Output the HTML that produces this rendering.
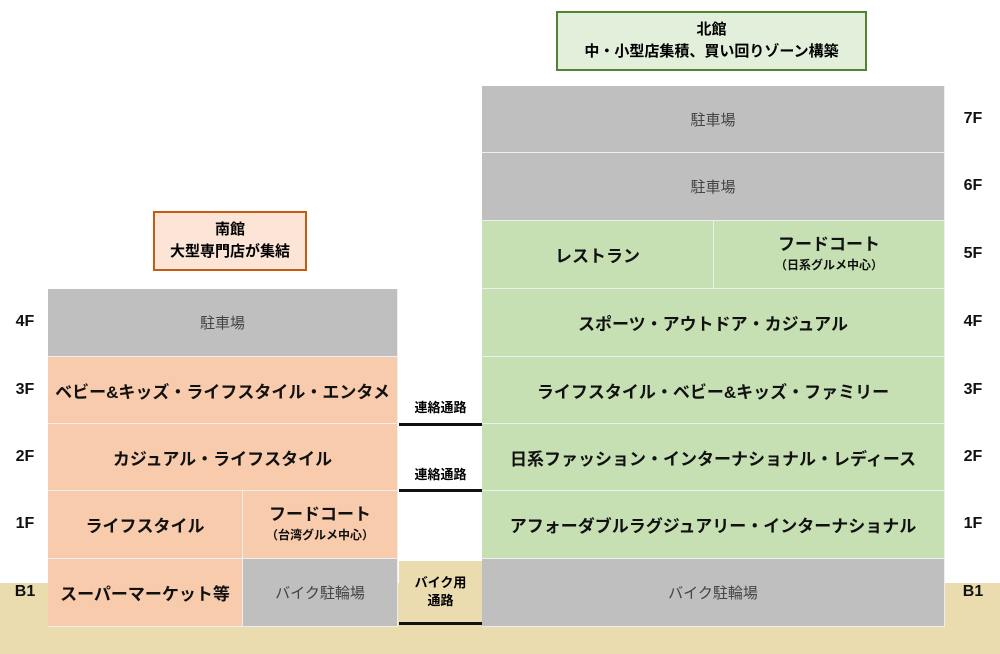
<!DOCTYPE html>
<html><head><meta charset="utf-8"><style>
body{margin:0;width:1000px;height:654px;position:relative;background:#fff;overflow:hidden;font-family:"Liberation Sans","Noto Sans CJK JP",sans-serif;}
div{position:absolute;box-sizing:border-box;}
.c{display:flex;align-items:center;justify-content:center;text-align:center;flex-direction:column;}
.g{background:#bfbfbf;color:#444;font-size:15px;}
.o{background:#f8cbad;color:#111;font-size:17px;font-weight:bold;}
.n{background:#c6e0b4;color:#111;font-size:17px;font-weight:bold;}
.f{font-size:16px;font-weight:bold;color:#111;width:40px;text-align:center;}
.s{font-size:12px;}
.bl{border-bottom:1px solid #eee;border-right:1px solid #eee;}
</style></head><body>
<div style="left:0;top:583px;width:1000px;height:71px;background:#ebdcb0"></div>
<!-- titles -->
<div class="c" style="left:556px;top:11px;width:311px;height:60px;background:#e2efda;border:2px solid #548235;font-size:15px;font-weight:bold;line-height:22px">北館<br>中・小型店集積、買い回りゾーン構築</div>
<div class="c" style="left:153px;top:211px;width:154px;height:60px;background:#fce4d6;border:2px solid #c55a11;font-size:15px;font-weight:bold;line-height:22px">南館<br>大型専門店が集結</div>
<!-- south -->
<div class="c g bl" style="left:48px;top:289px;width:350px;height:68px">駐車場</div>
<div class="c o bl" style="left:48px;top:357px;width:350px;height:67px">ベビー&amp;キッズ・ライフスタイル・エンタメ</div>
<div class="c o bl" style="left:48px;top:424px;width:350px;height:67px">カジュアル・ライフスタイル</div>
<div class="c o bl" style="left:48px;top:491px;width:195px;height:68px">ライフスタイル</div>
<div class="c o bl" style="left:243px;top:491px;width:155px;height:68px;line-height:20px">フードコート<span class="s">（台湾グルメ中心）</span></div>
<div class="c o bl" style="left:48px;top:559px;width:195px;height:68px">スーパーマーケット等</div>
<div class="c g bl" style="left:243px;top:559px;width:155px;height:68px">バイク駐輪場</div>
<!-- connectors -->
<div class="c" style="left:399px;top:394px;width:83px;height:24px;font-size:13px;font-weight:bold">連絡通路</div>
<div style="left:399px;top:423px;width:83px;height:3px;background:#111"></div>
<div class="c" style="left:399px;top:461px;width:83px;height:24px;font-size:13px;font-weight:bold">連絡通路</div>
<div style="left:399px;top:489px;width:83px;height:3px;background:#111"></div>
<div class="c" style="left:399px;top:561px;width:83px;height:62px;background:#ebdcb0;font-size:13px;font-weight:bold;line-height:18px">バイク用<br>通路</div>
<div style="left:399px;top:622px;width:83px;height:3px;background:#111"></div>
<!-- north -->
<div class="c g bl" style="left:482px;top:86px;width:463px;height:67px">駐車場</div>
<div class="c g bl" style="left:482px;top:153px;width:463px;height:68px">駐車場</div>
<div class="c n bl" style="left:482px;top:221px;width:232px;height:68px">レストラン</div>
<div class="c n bl" style="left:714px;top:221px;width:231px;height:68px;line-height:20px">フードコート<span class="s">（日系グルメ中心）</span></div>
<div class="c n bl" style="left:482px;top:289px;width:463px;height:68px">スポーツ・アウトドア・カジュアル</div>
<div class="c n bl" style="left:482px;top:357px;width:463px;height:67px">ライフスタイル・ベビー&amp;キッズ・ファミリー</div>
<div class="c n bl" style="left:482px;top:424px;width:463px;height:67px">日系ファッション・インターナショナル・レディース</div>
<div class="c n bl" style="left:482px;top:491px;width:463px;height:68px">アフォーダブルラグジュアリー・インターナショナル</div>
<div class="c g bl" style="left:482px;top:559px;width:463px;height:68px">バイク駐輪場</div>
<!-- floor labels -->
<div class="f" style="left:5px;top:313px">4F</div>
<div class="f" style="left:5px;top:381px">3F</div>
<div class="f" style="left:5px;top:448px">2F</div>
<div class="f" style="left:5px;top:515px">1F</div>
<div class="f" style="left:5px;top:583px">B1</div>
<div class="f" style="left:953px;top:110px">7F</div>
<div class="f" style="left:953px;top:177px">6F</div>
<div class="f" style="left:953px;top:245px">5F</div>
<div class="f" style="left:953px;top:313px">4F</div>
<div class="f" style="left:953px;top:381px">3F</div>
<div class="f" style="left:953px;top:448px">2F</div>
<div class="f" style="left:953px;top:515px">1F</div>
<div class="f" style="left:953px;top:583px">B1</div>
</body></html>
